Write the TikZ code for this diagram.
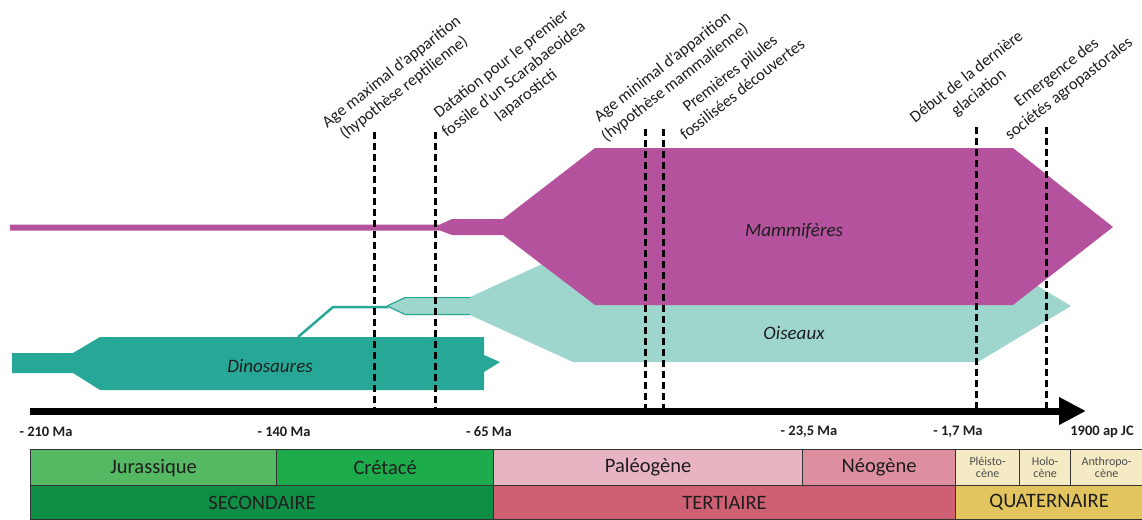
\documentclass[tikz,border=0pt]{standalone}
\usepackage{fontspec}
\setmainfont{Carlito}
\usetikzlibrary{arrows.meta}
\definecolor{mag}{HTML}{B5529D}
\definecolor{oisc}{HTML}{9ED6CE}
\definecolor{dinoc}{HTML}{27A897}
\definecolor{jur}{HTML}{55B862}
\definecolor{cre}{HTML}{1EAB4C}
\definecolor{sec}{HTML}{0F8F45}
\definecolor{pal}{HTML}{E8B4C1}
\definecolor{neo}{HTML}{DD8E9F}
\definecolor{ter}{HTML}{CF5F72}
\definecolor{qep}{HTML}{F4EAC4}
\definecolor{qua}{HTML}{E3C55F}
\definecolor{txt}{HTML}{1E1E1E}
\begin{document}
\begin{tikzpicture}[x=1pt,y=-1pt,
  evlabel/.style={rotate=38, align=center, font=\fontsize{16.5}{20}\selectfont, text=txt, inner sep=0pt},
  evline/.style={line width=3pt, dash pattern=on 7pt off 4pt, black},
  axlabel/.style={font=\fontsize{14.5}{16}\selectfont\bfseries, text=txt, inner sep=0pt},
  grouplabel/.style={font=\fontsize{19}{22}\selectfont\itshape, text=txt, inner sep=0pt},
  cell/.style={draw=black!80, line width=1.2pt, anchor=north west, inner sep=0pt, text=txt, font=\fontsize{20.5}{24}\selectfont},
  smallcell/.style={cell, align=center, text=black!70, font=\fontsize{12}{12.5}\selectfont}]
\useasboundingbox (0,0) rectangle (1142,519);

% Dinosaures
\fill[dinoc] (12,353) -- (73,353) -- (100,337) -- (484,337) -- (484,355) -- (500,362) -- (484,372) -- (484,390) -- (100,390) -- (73,373) -- (12,373) -- cycle;
% link to birds
\coordinate (lk1) at (298,337);
\coordinate (lk2) at (333,307);
\coordinate (lk3) at (388,307);
\draw[dinoc, line width=2.5pt] (lk1) -- (lk2) -- (lk3);
% Oiseaux
\fill[oisc] (387,306) -- (405,297) -- (470,297) -- (573,250) -- (978,250) -- (1071,306) -- (978,362) -- (573,362) -- (470,315) -- (405,315) -- cycle;
\draw[dinoc, line width=1.2pt] (387,306) -- (405,297.6) -- (470,297.6);
\draw[dinoc, line width=1.2pt] (387,306) -- (405,314.4) -- (470,314.4);
% Mammiferes
\fill[mag] (10,224.5) -- (440,224.5) -- (452,219) -- (503,219) -- (595,148) -- (1013,148) -- (1113,227) -- (1013,305) -- (595,305) -- (503,235) -- (452,235) -- (440,230.5) -- (10,230.5) -- cycle;

\node[grouplabel] (mam) at (794,231) {Mammifères};
\node[grouplabel] (ois) at (794,333) {Oiseaux};
\node[grouplabel] (dino) at (270,366) {Dinosaures};

% event dashed lines
\foreach \n/\x/\t in {1/374/132, 2/435/132, 3/645.5/129, 4/663.5/129, 5/976/127, 6/1046.5/127}{
  \coordinate (d\n t) at (\x,\t);
  \coordinate (d\n b) at (\x,410);
  \draw[evline] (d\n t) -- (d\n b);
}

% time axis
\coordinate (axL) at (30,411);
\coordinate (axR) at (1086,411);
\draw[line width=7pt, -{Triangle[length=27pt,width=26pt]}] (axL) -- (axR);

% event labels
\node[evlabel] (ev1) at (398,80) {Age maximal d'apparition\\(hypothèse reptilienne)};
\node[evlabel] (ev2) at (514,80) {Datation pour le premier\\fossile d'un Scarabaeoidea\\laparosticti};
\node[evlabel] (ev3) at (669,75) {Age minimal d'apparition\\(hypothèse mammalienne)};
\node[evlabel] (ev4) at (736,81) {Premières pilules\\fossilisées découvertes};
\node[evlabel] (ev5) at (973,85) {Début de la dernière\\glaciation};
\node[evlabel] (ev6) at (1063,81) {Emergence des\\sociétés agropastorales};

% axis labels
\node[axlabel] (t1) at (46,432) {- 210 Ma};
\node[axlabel] (t2) at (284,432) {- 140 Ma};
\node[axlabel] (t3) at (489,432) {- 65 Ma};
\node[axlabel] (t4) at (809,432) {- 23,5 Ma};
\node[axlabel] (t5) at (958,432) {- 1,7 Ma};
\node[axlabel] (t6) at (1102,432) {1900 ap JC};

% periods table
\node[cell, fill=jur, minimum width=246pt, minimum height=36pt] (jurc) at (30,449) {Jurassique};
\node[cell, fill=cre, minimum width=217pt, minimum height=36pt] (crec) at (276,449) {Crétacé};
\node[cell, fill=pal, minimum width=309pt, minimum height=36pt] (palc) at (493,449) {Paléogène};
\node[cell, fill=neo, minimum width=153pt, minimum height=36pt] (neoc) at (802,449) {Néogène};
\node[smallcell, fill=qep, minimum width=64pt, minimum height=36pt] (plec) at (955,449) {Pléisto-\\cène};
\node[smallcell, fill=qep, minimum width=51pt, minimum height=36pt] (holc) at (1019,449) {Holo-\\cène};
\node[smallcell, fill=qep, minimum width=72pt, minimum height=36pt] (antc) at (1070,449) {Anthropo-\\cène};
\node[cell, fill=sec, minimum width=463pt, minimum height=34pt] (secc) at (30,485) {SECONDAIRE};
\node[cell, fill=ter, minimum width=462pt, minimum height=34pt] (terc) at (493,485) {TERTIAIRE};
\node[cell, fill=qua, minimum width=187pt, minimum height=34pt] (quac) at (955,485) {QUATERNAIRE};
\end{tikzpicture}
\end{document}
